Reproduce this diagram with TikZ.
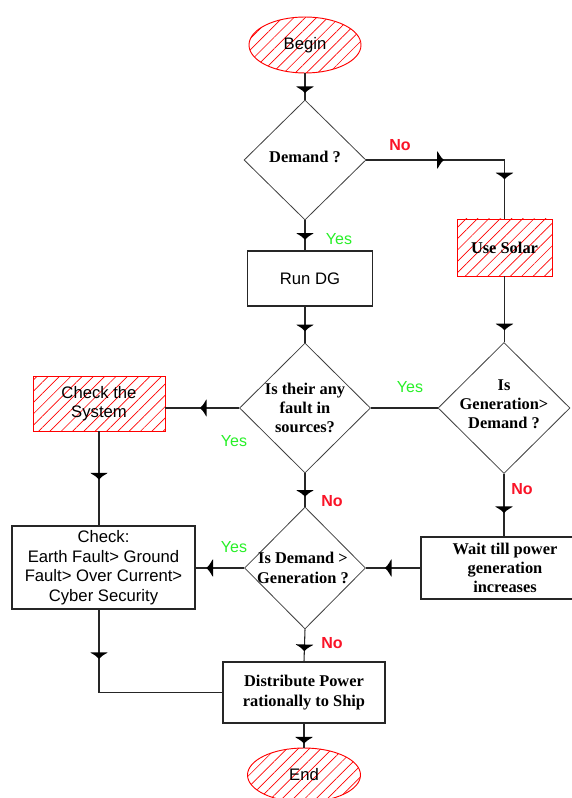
\documentclass[tikz,border=0pt]{standalone}
\usepackage{fontspec}
\setmainfont{Liberation Serif}
\setsansfont{Liberation Sans}
\usetikzlibrary{shapes.geometric,decorations.markings,patterns.meta}
\definecolor{lgreen}{RGB}{40,240,40}
\definecolor{lred}{RGB}{250,20,40}
\tikzset{
 boxs/.style={rectangle, draw=black!85, line width=0.8pt, fill=white, inner sep=0pt, align=center},
 hatch/.style={draw=red, line width=0.7pt, inner sep=0pt, align=center, pattern={Lines[angle=45,distance=6pt,line width=0.5pt]}, pattern color=red},
 dia/.style={diamond, draw=black!75, line width=0.6pt, inner sep=0pt, aspect=1},
 sf/.style={font=\sffamily\fontsize{12.5}{14.6}\selectfont},
 sb/.style={font=\bfseries\fontsize{12.3}{14.4}\selectfont, align=center},
 mk/.style={postaction={decorate,decoration={markings,mark=at position #1 with {\fill[black] (0pt,-6.5pt) .. controls (1pt,-6pt) and (1.5pt,-3pt) .. (5pt,0pt) .. controls (1.5pt,3pt) and (1pt,6pt) .. (0pt,6.5pt) -- cycle;}}}},
 conn/.style={line width=0.8pt, draw=black!85},
 yes/.style={font=\sffamily\fontsize{12}{14.4}\selectfont, text=lgreen},
 no/.style={font=\sffamily\bfseries\fontsize{12}{14.4}\selectfont, text=lred},
}
\begin{document}
\begin{tikzpicture}[x=0.75pt,y=-0.75pt]
\fill[white] (0,0) rectangle (571,798);
\useasboundingbox (0,0) rectangle (571,798);
% nodes
\node[hatch, ellipse, sf, minimum width={112*0.75pt}, minimum height={56*0.75pt}] (begin) at (305,45) {Begin};
\node[dia, minimum width={122*0.75pt}, minimum height={120*0.75pt}] (demand) at (305,160) {};
\node[sb] (demandt) at (305,157) {Demand ?};
\node[boxs, sf, minimum width={125*0.75pt}, minimum height={55*0.75pt}] (rundg) at (310,278.5) {Run DG};
\node[hatch, rectangle, sb, minimum width={95*0.75pt}, minimum height={57*0.75pt}] (solar) at (504.5,247.5) {Use Solar};
\node[dia, minimum width={131*0.75pt}, minimum height={130*0.75pt}] (fault) at (305,408) {};
\node[sb] (faultt) at (305,408) {Is their any\\fault in\\sources?};
\node[dia, minimum width={132*0.75pt}, minimum height={131*0.75pt}] (gen) at (504,408) {};
\node[sb] (gent) at (504,404) {Is\\Generation>\\Demand ?};
\node[hatch, rectangle, sf, minimum width={132*0.75pt}, minimum height={55*0.75pt}] (checksys) at (99,403.5) {Check the\\System};
\node[boxs, sf, minimum width={183*0.75pt}, minimum height={83*0.75pt}] (check) at (103.5,567.5) {Check:\\Earth Fault> Ground\\Fault> Over Current>\\Cyber Security};
\node[dia, minimum width={121*0.75pt}, minimum height={122*0.75pt}] (dg2) at (305,568) {};
\node[sb] (dg2t) at (303,568) {Is Demand >\\Generation ?};
\node[boxs, sb, minimum width={168*0.75pt}, minimum height={62*0.75pt}] (wait) at (505,568) {Wait till power\\generation\\increases};
\node[boxs, sb, minimum width={162*0.75pt}, minimum height={61*0.75pt}] (dist) at (304,692.5) {Distribute Power\\rationally to Ship};
\node[hatch, ellipse, sf, minimum width={113*0.75pt}, minimum height={54*0.75pt}] (end) at (304,775) {End};
% connectors
\draw[conn, mk=0.5] (begin.south) -- (demand.north);
\draw[conn, mk=0.42] (demand.south) -- (demand.south |- rundg.north);
\draw[conn, mk=0.36, mk=0.767] (demand.east) -| (solar.north);
\draw[conn, mk=0.72] (solar.south) -- (solar.south |- gen.north);
\draw[conn, mk=0.5] (fault.north |- rundg.south) -- (fault.north);
\draw[conn] (gen.west) -- (fault.east);
\draw[conn, mk=0.44] (fault.west) -- (fault.west -| checksys.east);
\draw[conn, mk=0.44] (checksys.south) -- (checksys.south |- check.north);
\draw[conn, mk=0.5] (fault.south) -- (dg2.north);
\draw[conn, mk=0.64] (dg2.west) -- (dg2.west -| check.east);
\draw[conn, mk=0.52] (gen.south) -- (gen.south |- wait.north);
\draw[conn, mk=0.53] (wait.west) -- (dg2.east);
\draw[conn, mk=0.47] (dg2.south) -- (dist.north);
\draw[conn, mk=0.207] (check.south -| checksys.south) |- (dist.west);
\draw[conn, mk=0.56] (dist.south) -- (end.north);
% labels
\node[no] (l1) at (400,145) {No};
\node[yes] (l2) at (339,239) {Yes};
\node[yes] (l3) at (410,387) {Yes};
\node[yes] (l4) at (234,441) {Yes};
\node[no] (l5) at (332,501) {No};
\node[no] (l6) at (522,489) {No};
\node[yes] (l7) at (234,547) {Yes};
\node[no] (l8) at (332,643) {No};
\end{tikzpicture}
\end{document}
